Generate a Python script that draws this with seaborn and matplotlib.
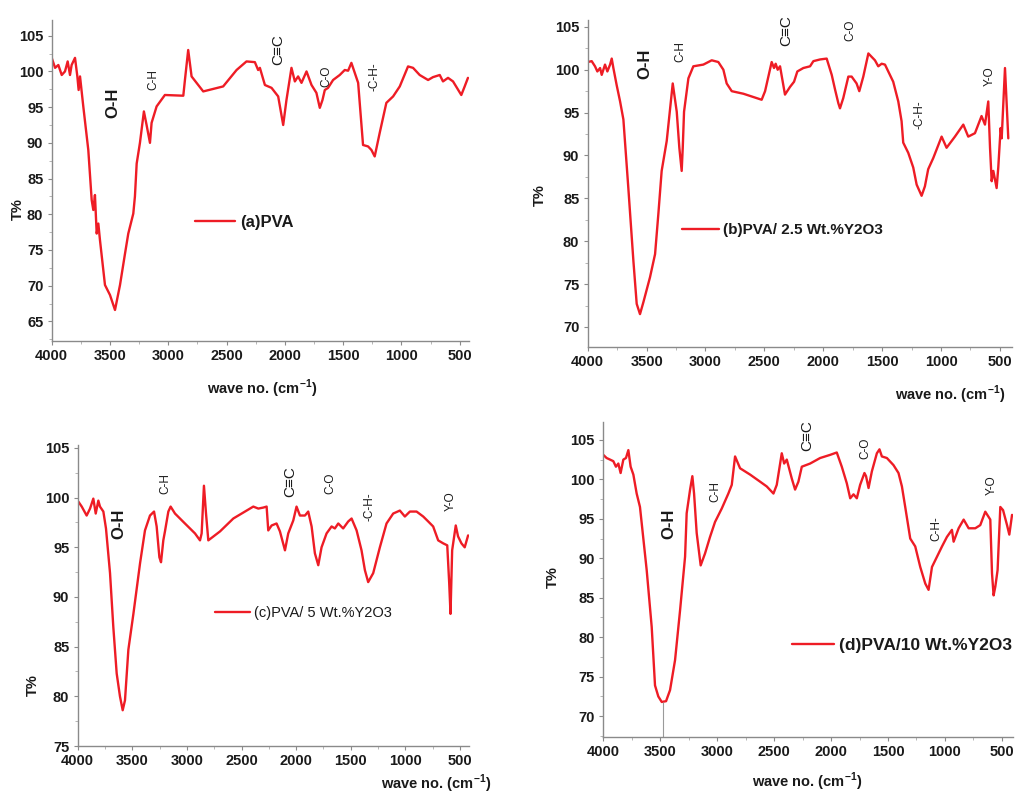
import matplotlib
matplotlib.use("Agg")
import matplotlib.pyplot as plt
import seaborn as sns
import pandas as pd
from matplotlib.ticker import MultipleLocator

# ---------------- data ----------------
wave_a = [4000, 3971, 3943, 3914, 3886, 3863, 3843, 3829, 3800, 3780, 3769, 3757, 3729, 3686, 3657, 3643, 3629,
          3614, 3600, 3586, 3543, 3500, 3457, 3414, 3371, 3343, 3300, 3286, 3271, 3243, 3209, 3186, 3157, 3143,
          3100, 3029, 2871, 2857, 2829, 2800, 2700, 2529, 2414, 2329, 2257, 2229, 2214, 2171, 2114, 2057, 2014,
          1986, 1943, 1914, 1886, 1857, 1814, 1771, 1729, 1700, 1677, 1657, 1629, 1586, 1529, 1486, 1457, 1429,
          1371, 1329, 1286, 1257, 1229, 1186, 1129, 1071, 1014, 943, 900, 843, 771, 729, 671, 643, 600, 557,
          486, 457, 429]
t_a = [101.9, 100.5, 100.9, 99.5, 100.0, 101.4, 99.5, 100.9, 101.9, 99.3, 97.4, 99.3, 95.1, 89.0, 82.0, 80.6, 82.7,
       77.3, 78.7, 76.4, 70.1, 68.7, 66.6, 70.1, 74.5, 77.3, 80.1, 82.5, 87.1, 90.0, 94.4, 92.5, 90.0, 92.8,
       95.1, 96.7, 96.6, 98.8, 103.0, 99.3, 97.2, 97.9, 100.2, 101.4, 101.3, 100.2, 100.5, 98.1, 97.7, 96.5, 92.5,
       96.0, 100.5, 98.6, 99.3, 98.4, 100.0, 98.1, 97.0, 94.9, 96.0, 97.4, 97.7, 98.8, 99.5, 100.2, 100.1, 101.2,
       98.4, 89.7, 89.5, 89.0, 88.1, 91.4, 95.6, 96.5, 97.9, 100.7, 100.5, 99.5, 98.8, 99.2, 99.5, 98.6, 99.1, 98.6,
       96.7, 97.9, 99.1]

wave_b = [4000, 3966, 3938, 3918, 3895, 3881, 3853, 3833, 3810, 3796, 3782, 3754, 3725, 3697, 3655, 3612, 3584,
          3556, 3527, 3471, 3428, 3400, 3372, 3329, 3278, 3244, 3222, 3202, 3193, 3182, 3145, 3103, 3018, 2947,
          2891, 2848, 2820, 2777, 2678, 2523, 2494, 2438, 2418, 2404, 2387, 2367, 2325, 2282, 2248, 2220, 2169,
          2112, 2084, 2027, 1971, 1928, 1900, 1872, 1858, 1830, 1787, 1759, 1717, 1694, 1660, 1617, 1589, 1561,
          1533, 1504, 1476, 1448, 1406, 1363, 1335, 1321, 1278, 1236, 1207, 1165, 1137, 1109, 1066, 995, 953, 882,
          811, 769, 712, 656, 627, 599, 584, 570, 556, 528, 514, 494, 485, 457, 429]
t_b = [100.9, 101.0, 100.4, 99.8, 100.2, 99.4, 100.6, 99.8, 100.6, 101.3, 100.2, 98.2, 96.3, 94.2, 86.2, 77.7, 72.7,
       71.5, 72.9, 75.8, 78.5, 83.2, 88.2, 91.7, 98.4, 95.1, 90.9, 88.2, 90.9, 95.1, 99.0, 100.4, 100.6, 101.1,
       100.9, 100.0, 98.4, 97.5, 97.2, 96.5, 97.5, 100.9, 100.2, 100.7, 100.0, 100.4, 97.1, 98.0, 98.6, 99.8, 100.2,
       100.4, 101.0, 101.2, 101.3, 99.4, 97.7, 96.1, 95.5, 96.7, 99.2, 99.2, 98.4, 97.5, 99.2, 101.9, 101.5, 101.1,
       100.4, 100.7, 100.6, 99.8, 98.6, 96.3, 94.0, 91.5, 90.3, 88.6, 86.6, 85.3, 86.4, 88.4, 89.7, 92.2, 90.9, 92.2,
       93.6, 92.2, 92.6, 94.6, 93.6, 96.3, 90.9, 87.0, 88.2, 86.2, 88.6, 93.2, 92.0, 100.2, 92.0]

wave_c = [3994, 3963, 3918, 3887, 3857, 3835, 3811, 3796, 3765, 3741, 3704, 3674, 3643, 3613, 3588, 3567, 3536,
          3490, 3429, 3384, 3338, 3301, 3277, 3252, 3237, 3216, 3201, 3170, 3149, 3109, 3018, 2926, 2880, 2865,
          2844, 2825, 2804, 2697, 2575, 2453, 2392, 2346, 2301, 2270, 2255, 2224, 2179, 2148, 2102, 2072, 2026,
          1996, 1965, 1919, 1889, 1858, 1828, 1797, 1767, 1721, 1675, 1645, 1614, 1569, 1523, 1492, 1446, 1401,
          1370, 1340, 1294, 1233, 1172, 1111, 1050, 1004, 958, 897, 836, 790, 745, 699, 653, 616, 598, 586, 571,
          538, 517, 486, 456, 425]
t_c = [99.6, 99.1, 98.2, 98.9, 99.9, 98.4, 99.7, 99.1, 98.6, 96.9, 92.4, 87.0, 82.3, 80.0, 78.6, 79.6, 84.7,
       88.3, 93.4, 96.7, 98.2, 98.6, 97.1, 94.0, 93.5, 95.7, 96.6, 98.6, 99.1, 98.4, 97.4, 96.4, 95.7, 96.4,
       101.2, 98.4, 95.7, 96.6, 97.9, 98.7, 99.1, 98.9, 99.0, 99.1, 96.7, 97.2, 97.4, 96.6, 94.7, 96.4, 97.7,
       99.1, 98.2, 98.2, 98.6, 97.1, 94.4, 93.2, 95.0, 96.4, 97.1, 96.9, 97.4, 96.9, 97.6, 97.9, 96.7, 94.7,
       92.7, 91.5, 92.4, 95.0, 97.4, 98.4, 98.7, 98.1, 98.6, 98.6, 98.1, 97.6, 97.1, 95.7, 95.4, 95.2, 91.4, 88.3, 94.7,
       97.2, 96.1, 95.4, 95.0, 96.2]

wave_d = [4000, 3971, 3941, 3912, 3889, 3868, 3848, 3824, 3801, 3780, 3760, 3736, 3707, 3678, 3619, 3575, 3546,
          3517, 3487, 3449, 3414, 3370, 3326, 3282, 3268, 3238, 3218, 3203, 3180, 3145, 3107, 3063, 3019, 2960,
          2902, 2872, 2843, 2799, 2711, 2623, 2565, 2506, 2477, 2433, 2412, 2389, 2345, 2316, 2287, 2257, 2184,
          2096, 2008, 1950, 1906, 1862, 1832, 1803, 1774, 1745, 1707, 1693, 1671, 1642, 1598, 1575, 1554, 1510,
          1452, 1408, 1378, 1349, 1305, 1261, 1217, 1173, 1144, 1114, 1070, 1026, 983, 939, 924, 880, 836, 792,
          734, 690, 646, 602, 587, 573, 558, 538, 514, 490, 455, 435, 411]
t_d = [103.1, 102.7, 102.5, 102.3, 101.6, 102.0, 100.8, 102.5, 102.7, 103.7, 101.6, 100.6, 98.2, 96.5, 88.5, 81.3, 73.9,
       72.5, 71.8, 71.9, 73.3, 77.1, 83.4, 90.2, 95.7, 98.7, 100.4, 98.2, 93.2, 89.1, 90.6, 92.7, 94.6, 96.3,
       98.2, 99.3, 102.9, 101.4, 100.6, 99.7, 99.1, 98.2, 99.3, 103.3, 102.0, 102.5, 100.1, 98.7, 99.7, 101.6, 102.0,
       102.7, 103.1, 103.4, 101.6, 99.5, 97.6, 98.1, 97.6, 99.3, 100.8, 100.4, 98.9, 101.0, 103.3, 103.8, 102.9, 102.7,
       101.8, 100.8, 99.1, 96.5, 92.5, 91.5, 88.9, 86.8, 86.0, 88.9, 90.2, 91.5, 92.7, 93.6, 92.1, 93.8, 94.9, 93.8,
       93.8, 94.2, 95.9, 94.9, 88.1, 85.3, 86.4, 88.5, 96.5, 96.1, 94.2, 93.0, 95.5]

legend_labels = ["(a)PVA", "(b)PVA/ 2.5 Wt.%Y2O3", "(c)PVA/ 5 Wt.%Y2O3", "(d)PVA/10 Wt.%Y2O3"]
x_ticks = [4000, 3500, 3000, 2500, 2000, 1500, 1000, 500]

# band annotations: (text, wavenumber, T%)
ann_a = [("O-H", 3471, 95.6), ("C-H", 3129, 98.8), ("C≡C", 2057, 103.0), ("C-O", 1643, 99.3), ("-C-H-", 1229, 99.3)]
ann_b = [("O-H", 3513, 100.7), ("C-H", 3210, 102.1), ("C≡C", 2316, 104.6), ("C-O", 1773, 104.6),
         ("-C-H-", 1184, 94.8), ("Y-O", 584, 99.2)]
ann_c = [("O-H", 3619, 97.4), ("C-H", 3201, 101.4), ("C≡C", 2056, 101.6), ("C-O", 1690, 101.4),
         ("-C-H-", 1330, 99.1), ("Y-O", 586, 99.6)]
ann_d = [("O-H", 3420, 94.4), ("C-H", 3019, 98.4), ("C≡C", 2213, 105.6), ("C-O", 1701, 103.9),
         ("C-H-", 1077, 93.8), ("Y-O", 587, 99.2)]

# ---------------- style ----------------
sns.set_style("ticks")
plt.rcParams["font.family"] = ["Liberation Sans", "DejaVu Sans"]
plt.rcParams["mathtext.fontset"] = "custom"
plt.rcParams["mathtext.rm"] = "Liberation Sans"
plt.rcParams["mathtext.bf"] = "Liberation Sans:bold"

RED = "#ee1c25"
TXT = "#1a1a1a"

fig = plt.figure(figsize=(10.22, 7.96), dpi=100)
W, H = 1022, 796

def rect(l, r, t, b):
    return [l / W, 1 - b / H, (r - l) / W, (b - t) / H]

panels = [
    dict(wave=wave_a, t=t_a, ann=ann_a, rect=rect(51.7, 469, 20, 340.7), ylim=(62.3, 107.2), yticks=range(65, 106, 5),
         xlim=(4000, 420), leg=(195, 222), ylab=(-0.081, 0.41), xlab=(0.504, -0.15), legbold=True, legsize=12),
    dict(wave=wave_b, t=t_b, ann=ann_b, rect=rect(587.7, 1011.7, 20, 346.7), ylim=(67.7, 105.8), yticks=range(70, 106, 5),
         xlim=(4000, 400), leg=(682, 230), ylab=(-0.112, 0.464), xlab=(0.854, -0.148), legbold=True, legsize=11),
    dict(wave=wave_c, t=t_c, ann=ann_c, rect=rect(77.7, 469.3, 445, 746), ylim=(75, 105.3), yticks=range(75, 106, 5),
         xlim=(4000, 414), leg=(215, 613), ylab=(-0.114, 0.203), xlab=(0.915, -0.125), legbold=False, legsize=10.5),
    dict(wave=wave_d, t=t_d, ann=ann_d, rect=rect(603.3, 1013.3, 421.7, 736.7), ylim=(67.4, 107.3), yticks=range(70, 106, 5),
         xlim=(4000, 400), leg=(792, 645), ylab=(-0.123, 0.507), xlab=(0.497, -0.144), legbold=True, legsize=12.5),
]

for i, p in enumerate(panels):
    ax = fig.add_axes(p["rect"])
    df = pd.DataFrame({"wave": p["wave"], "T": p["t"]})
    sns.lineplot(data=df, x="wave", y="T", ax=ax, color=RED, linewidth=1.7, sort=False,
                 estimator=None, label=legend_labels[i])
    ax.set_xlim(*p["xlim"])
    ax.set_ylim(*p["ylim"])
    ax.set_xticks(x_ticks)
    ax.set_yticks(list(p["yticks"]))
    ax.xaxis.set_minor_locator(MultipleLocator(250))
    ax.yaxis.set_minor_locator(MultipleLocator(2.5))
    for s in ["top", "right"]:
        ax.spines[s].set_visible(False)
    for s in ["left", "bottom"]:
        ax.spines[s].set_color("#8a8a8a")
        ax.spines[s].set_linewidth(1.0)
    ax.tick_params(axis="both", which="major", direction="out", length=3, width=0.8, color="#8a8a8a",
                   labelsize=10.5, labelcolor=TXT, pad=3)
    ax.tick_params(axis="both", which="minor", direction="out", length=2, width=0.6, color="#aaaaaa")
    for lab in ax.get_xticklabels() + ax.get_yticklabels():
        lab.set_fontweight("bold")

    ax.set_ylabel("T%", fontsize=10.5, color=TXT, fontweight="bold")
    ax.yaxis.set_label_coords(*p["ylab"])
    ax.yaxis.label.set_va("center")
    ax.set_xlabel("wave no. (cm$^{\\mathbf{-1}}$)", fontsize=10.5, color=TXT, fontweight="bold")
    ax.xaxis.set_label_coords(*p["xlab"])
    ax.xaxis.label.set_va("center")

    for txt, x, y in p["ann"]:
        if txt == "O-H":
            fs, fw = 12, "bold"
        elif txt == "C≡C":
            fs, fw = 11, "normal"
        else:
            fs, fw = 8.5, "normal"
        ax.text(x, y, txt, rotation=90, ha="center", va="center", fontsize=fs, fontweight=fw, color=TXT)

    if i == 3:
        ax.vlines(3473, p["ylim"][0], 71.8, color="#9a9a9a", linewidth=0.8)

    lx, ly = p["leg"]
    leg = ax.legend(loc="center left", bbox_to_anchor=(lx / W, 1 - ly / H), bbox_transform=fig.transFigure,
                    frameon=False, borderaxespad=0, borderpad=0, handlelength=2.4, handletextpad=0.3,
                    prop={"size": p["legsize"], "weight": "bold" if p["legbold"] else "normal"})
    for t in leg.get_texts():
        t.set_color(TXT)

fig.savefig("out.png", dpi=100)
